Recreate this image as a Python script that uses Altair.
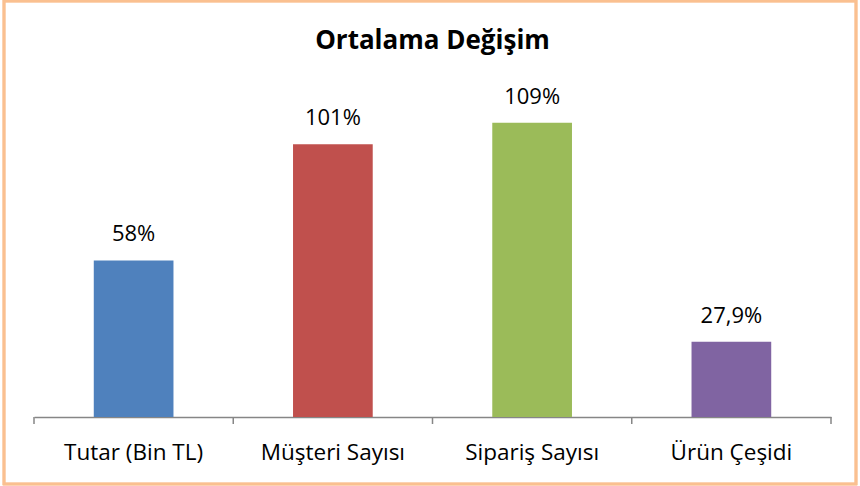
import altair as alt
import pandas as pd

categories = ["Tutar (Bin TL)", "Müşteri Sayısı", "Sipariş Sayısı", "Ürün Çeşidi"]
values = [58, 101, 109, 27.9]
labels = ["58%", "101%", "109%", "27,9%"]
colors = ["#4F81BD", "#C0504D", "#9BBB59", "#8064A2"]

df = pd.DataFrame({"cat": categories, "val": values, "lab": labels})

FONT = "Open Sans"
AXIS_GRAY = "#868686"
WIDTH = 797
STEP = WIDTH / 4
HALF_GAP = 0.3 * STEP  # outer padding / half of inner padding

x = alt.X("cat:N", sort=categories,
          scale=alt.Scale(paddingInner=0.6, paddingOuter=0.3),
          axis=alt.Axis(title=None, labelAngle=0, labelFont=FONT, labelFontSize=22.5,
                        labelColor="#000000", labelBaseline="alphabetic", labelPadding=42,
                        domainColor=AXIS_GRAY, ticks=False, domainWidth=1.5))
y = alt.Y("val:Q", scale=alt.Scale(domain=[0, 120]), axis=None)

bars = alt.Chart(df).mark_bar().encode(
    x=x, y=y,
    color=alt.Color("cat:N", sort=categories,
                    scale=alt.Scale(domain=categories, range=colors), legend=None),
)

text = alt.Chart(df).mark_text(font=FONT, fontSize=22, baseline="alphabetic", dy=-19,
                               color="#000000").encode(
    x=alt.X("cat:N", sort=categories), y="val:Q", text="lab:N")

# category boundary ticks (left edge of each step, right edge of the last)
ticks_left = alt.Chart(df).mark_rule(color=AXIS_GRAY, strokeWidth=1.5,
                                     xOffset=-HALF_GAP).encode(
    x=alt.X("cat:N", sort=categories, bandPosition=0),
    y=alt.value(324), y2=alt.value(331))
ticks_right = alt.Chart(df).transform_filter(
    alt.datum.cat == categories[-1]).mark_rule(color=AXIS_GRAY, strokeWidth=1.5,
                                               xOffset=HALF_GAP).encode(
    x=alt.X("cat:N", sort=categories, bandPosition=1),
    y=alt.value(324), y2=alt.value(331))

border = alt.Chart(df).mark_rect(filled=False, stroke="#FAC090", strokeWidth=2.5,
                                 clip=False).encode(
    x=alt.value(-30), x2=alt.value(822), y=alt.value(-92), y2=alt.value(391))

chart = alt.layer(bars, text, ticks_left, ticks_right, border).properties(
    width=WIDTH, height=324,
    title=alt.TitleParams("Ortalama Değişim", font=FONT, fontSize=26, fontWeight="bold",
                          color="#000000", anchor="middle", baseline="alphabetic",
                          offset=-75),
    autosize=alt.AutoSizeParams(type="none"),
    padding={"left": 34, "top": 93, "right": 29, "bottom": 69},
    background="#FFFFFF",
).configure_view(stroke=None)

chart.save("out.html", embed_options={"renderer": "svg", "actions": False})
